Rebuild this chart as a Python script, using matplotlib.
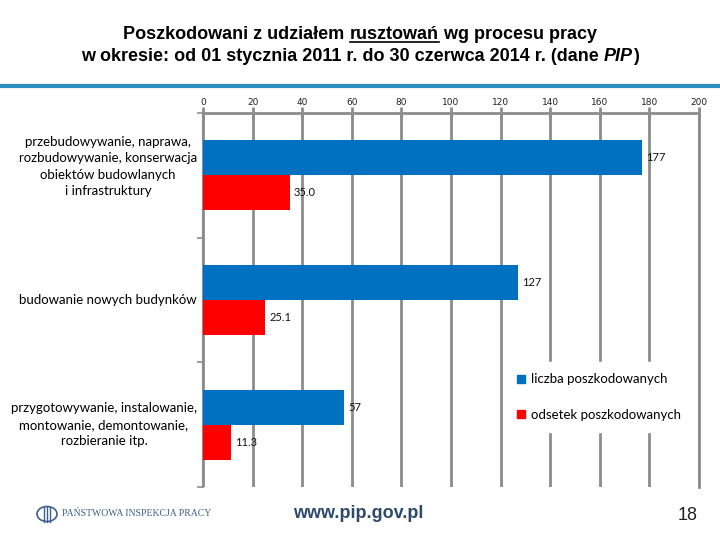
import matplotlib
matplotlib.use("Agg")
import matplotlib.pyplot as plt
from matplotlib.lines import Line2D
from matplotlib.patches import Circle
from matplotlib.transforms import blended_transform_factory

categories = [
    "przebudowywanie, naprawa,\nrozbudowywanie, konserwacja\nobiektów budowlanych\ni infrastruktury",
    "budowanie nowych budynków",
    "przygotowywanie, instalowanie,\nmontowanie, demontowanie,\nrozbieranie itp.",
]
liczba = [177, 127, 57]
odsetek = [35.0, 25.1, 11.3]
series_names = ["liczba poszkodowanych", "odsetek poszkodowanych"]
xticks = list(range(0, 201, 20))

BLUE = "#0070C0"
RED = "#FF0000"
GRID = "#8c8c8c"
W, H = 720, 540

fig = plt.figure(figsize=(7.2, 5.4), dpi=100)
ax = fig.add_axes([203 / W, 1 - 487 / H, (699 - 203) / W, (487 - 113) / H])

ypos = list(range(len(categories)))
bh = 0.28
ax.barh([y - bh / 2 for y in ypos], liczba, height=bh, color=BLUE, zorder=3)
ax.barh([y + bh / 2 for y in ypos], odsetek, height=bh, color=RED, zorder=3)

lab_font = ["Lato", "DejaVu Sans"]
for y, v in zip(ypos, liczba):
    ax.text(v + 1.6, y - bh / 2, f"{v:.0f}", va="center", ha="left", fontsize=8,
            family=lab_font, color="#111111", zorder=4)
for y, v in zip(ypos, odsetek):
    ax.text(v + 1.6, y + bh / 2, f"{v:.1f}", va="center", ha="left", fontsize=8,
            family=lab_font, color="#111111", zorder=4)

ax.set_xlim(0, 200)
ax.set_ylim(2.5, -0.5)
ax.xaxis.tick_top()
ax.set_xticks(xticks)
ax.set_xticklabels([str(t) for t in xticks], fontsize=6.5, family="DejaVu Sans", color="#222222")
ax.tick_params(axis="x", direction="inout", length=8, width=2, color=GRID, pad=0.5)

# category labels (right-aligned block, centred lines)
ax.set_yticks([])
trans = blended_transform_factory(ax.transAxes, ax.transData)
for i, (y, lab) in enumerate(zip(ypos, categories)):
    yy = y - 0.07 if lab.count("\n") >= 3 else y
    ax.text(-0.012, yy, lab, transform=trans, ha="right", va="center",
            multialignment="center", fontsize=9.5, family=lab_font, linespacing=1.45)
ax.set_yticks([-0.5, 0.5, 1.5, 2.5], minor=True)
ax.tick_params(axis="y", which="minor", direction="out", length=4, width=1.2, color=GRID)
ax.grid(axis="x", color=GRID, linewidth=2)
ax.set_axisbelow(True)
for s in ["top", "left", "right"]:
    ax.spines[s].set_color(GRID)
ax.spines["top"].set_linewidth(2)
ax.spines["right"].set_linewidth(2)
ax.spines["left"].set_linewidth(1.5)
ax.spines["bottom"].set_visible(False)

handles = [Line2D([], [], marker="s", linestyle="none", markersize=5.5, color=c)
           for c in (BLUE, RED)]
leg = ax.legend(handles, series_names, loc="upper left",
                bbox_to_anchor=(497 / W, 1 - 355 / H), bbox_transform=fig.transFigure,
                frameon=True, framealpha=1, edgecolor="white", facecolor="white",
                fancybox=False, handlelength=0.8, handletextpad=0.35, labelspacing=1.75,
                borderpad=0.9, prop={"family": lab_font, "size": 9.5})
leg.set_zorder(10)

# teal separator line
fig.add_artist(Line2D([0, 1], [1 - 86 / H, 1 - 86 / H], transform=fig.transFigure,
                      color="#2b8cc0", linewidth=3))

# Title with underline and italic parts
title_font = ["Liberation Sans", "DejaVu Sans"]
fig.canvas.draw()
renderer = fig.canvas.get_renderer()


def draw_line(parts, y_px, size):
    texts = []
    for txt, style, underline in parts:
        t = fig.text(0, 1 - y_px / H, txt, fontsize=size, fontweight="bold", style=style,
                     family=title_font, va="baseline", ha="left")
        texts.append((t, underline))
    widths = [t.get_window_extent(renderer).width for t, _ in texts]
    total = sum(widths)
    x = W / 2 - total / 2
    for (t, underline), w in zip(texts, widths):
        t.set_x(x / W)
        if underline:
            fig.add_artist(Line2D([x / W, (x + w) / W], [1 - (y_px + 2.5) / H] * 2,
                                  transform=fig.transFigure, color="black", linewidth=1.2))
        x += w


draw_line([("Poszkodowani z udziałem ", "normal", False),
           ("rusztowań", "normal", True),
           (" wg procesu pracy", "normal", False)], 39, 13)
draw_line([("w okresie: od 01 stycznia 2011 r. do 30 czerwca 2014 r. (dane ", "normal", False),
           ("PIP", "italic", False),
           (")", "normal", False)], 61, 13)

# Footer
fig.text(358 / W, 1 - 513 / H, "www.pip.gov.pl", fontsize=13, fontweight="bold",
         family=["Liberation Sans", "DejaVu Sans"], color="#2e4a6b", ha="center", va="center")
fig.text(688 / W, 1 - 515 / H, "18", fontsize=13, family=["Liberation Sans", "DejaVu Sans"],
         color="#222222", ha="center", va="center")
LOGO = "#3f5f8f"
fig.add_artist(Circle((47 / W, 1 - 514 / H), 10 / W, transform=fig.transFigure,
                      fill=False, edgecolor=LOGO, linewidth=1.2))
for dx in (-3, 0, 3):
    fig.add_artist(Line2D([(47 + dx) / W] * 2, [1 - 507 / H, 1 - 522 / H],
                          transform=fig.transFigure, color=LOGO, linewidth=1))
fig.text(62 / W, 1 - 514 / H, "PAŃSTWOWA INSPEKCJA PRACY", fontsize=7,
         family=["Liberation Serif", "DejaVu Serif"], color=LOGO, ha="left", va="center")

fig.savefig("out.png", dpi=100)
